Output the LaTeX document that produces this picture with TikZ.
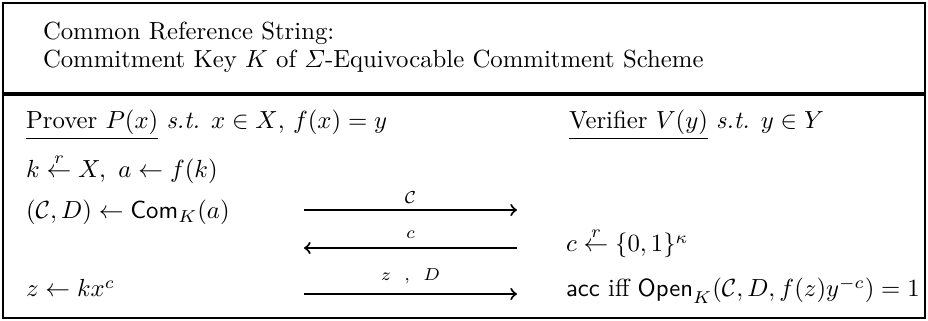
\documentclass[tikz,border=0pt]{standalone}
\usepackage{amsmath,amssymb}
\begin{document}
\begin{tikzpicture}[x=0.404pt,y=-0.404pt,
  txt/.style={anchor=base west,inner sep=0pt,outer sep=0pt},
  lbl/.style={anchor=base,inner sep=0pt,font=\scriptsize},
  msg/.style={line width=0.85pt},
  frame/.style={line width=0.95pt}]
\useasboundingbox (0,0) rectangle (928,321);
\draw[frame] (3,3) rectangle (925,318);
\draw[line width=1.4pt] (3,94) -- (925,94);
% header
\node[txt] (h1) at (43,40) {Common Reference String:};
\node[txt] (h2) at (43,68) {Commitment Key $K$ of $\varSigma$-Equivocable Commitment Scheme};
% parties
\node[txt] (prover) at (26,129) {\underline{Prover $P(x)$} \textit{s.t.} $x\in X$, $f(x)=y$};
\node[txt] (verifier) at (569,129) {\underline{Verifier $V(y)$} \textit{s.t.} $y\in Y$};
% prover steps
\node[txt] (krow) at (26,178) {$k \stackrel{r}{\leftarrow} X,\ a \leftarrow f(k)$};
\node[txt] (comrow) at (26,219) {$(\mathcal{C},D) \leftarrow \mathsf{Com}_K(a)$};
\node[txt] (zrow) at (26,297) {$z \leftarrow kx^c$};
% verifier steps
\node[txt] (crow) at (566,252) {$c \stackrel{r}{\leftarrow} \{0,1\}^\kappa$};
\node[txt] (accrow) at (566,297) {\textsf{acc} iff $\mathsf{Open}_K(\mathcal{C},D,f(z)y^{-c})=1$};
% messages
\coordinate (m1l) at (304,210); \coordinate (m1r) at (517,210);
\coordinate (m2l) at (304,248); \coordinate (m2r) at (517,248);
\coordinate (m3l) at (304,294); \coordinate (m3r) at (517,294);
\draw[msg,->] (m1l) -- (m1r);
\draw[msg,<-] (m2l) -- (m2r);
\draw[msg,->] (m3l) -- (m3r);
\node[lbl] (l1) at (410.5,204) {$\mathcal{C}$};
\node[lbl] (l2) at (410.5,239) {$c$};
\node[lbl] (l3) at (410.5,281) {$z$ \ , \ $D$};
\end{tikzpicture}
\end{document}
